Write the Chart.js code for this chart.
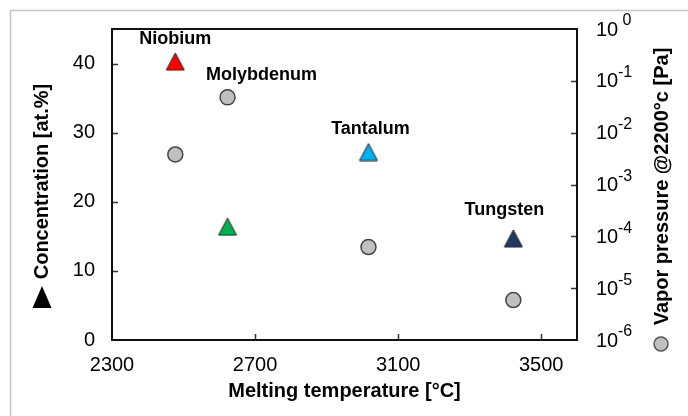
<!DOCTYPE html>
<html>
<head>
<meta charset="utf-8">
<script src="https://cdn.jsdelivr.net/npm/chart.js@4.4.1/dist/chart.umd.min.js"></script>
<style>
  html, body { margin: 0; padding: 0; background: #fff; }
  #wrap { width: 688px; height: 416px; }
</style>
</head>
<body>
<div id="wrap"><canvas id="chart" width="688" height="416"></canvas></div>
<script>
// Data
const metals        = ["Niobium", "Molybdenum", "Tantalum", "Tungsten"];
const meltingTemp   = [2477, 2623, 3017, 3422];          // °C
const concentration = [40.3, 16.4, 27.2, 14.7];          // at.%
const vaporPressure = [3.8e-3, 4.8e-2, 6.2e-5, 5.9e-6];  // Pa @ 2200 °C
const xTicks  = [2300, 2700, 3100, 3500];
const yTicks  = [0, 10, 20, 30, 40];
const y2Ticks = [1, 1e-1, 1e-2, 1e-3, 1e-4, 1e-5, 1e-6];

// Styling
const triColors    = ["#ff0000", "#00b050", "#00b0f0", "#1f3864"];
const labelOffsets = [[0, -22], [34, -152], [2, -23], [-9, -28]]; // relative to triangle
const FONT = "'Liberation Sans', Arial, sans-serif";

function triangleImage(color) {
  const c = document.createElement("canvas");
  c.width = 20; c.height = 19;
  const g = c.getContext("2d");
  g.beginPath();
  g.moveTo(10, 1);
  g.lineTo(19, 18);
  g.lineTo(1, 18);
  g.closePath();
  g.fillStyle = color;
  g.fill();
  g.strokeStyle = "#222";
  g.lineWidth = 1;
  g.stroke();
  return c;
}

const decorations = {
  id: "decorations",
  beforeDraw(chart) {
    const ctx = chart.ctx;
    ctx.save();
    ctx.fillStyle = "#fff";
    ctx.fillRect(0, 0, chart.width, chart.height);
    ctx.strokeStyle = "#c4c4c4";
    ctx.lineWidth = 1.5;
    ctx.strokeRect(10.5, 10.5, chart.width, chart.height);
    ctx.restore();
  },
  beforeDatasetsDraw(chart) {
    const { ctx, chartArea: a, scales } = chart;
    ctx.save();
    // inner tick marks
    ctx.strokeStyle = "#333";
    ctx.lineWidth = 1.5;
    ctx.beginPath();
    scales.x.ticks.forEach(t => {
      if (t.value === scales.x.min) return;
      const px = Math.round(scales.x.getPixelForValue(t.value)) + 0.5;
      ctx.moveTo(px, a.bottom); ctx.lineTo(px, a.bottom - 6);
    });
    scales.y.ticks.forEach(t => {
      if (t.value === scales.y.min) return;
      const py = Math.round(scales.y.getPixelForValue(t.value)) + 0.5;
      ctx.moveTo(a.left, py); ctx.lineTo(a.left + 6, py);
    });
    scales.y2.ticks.forEach(t => {
      if (t.value === scales.y2.min || t.value === scales.y2.max) return;
      const py = Math.round(scales.y2.getPixelForValue(t.value)) + 0.5;
      ctx.moveTo(a.right, py); ctx.lineTo(a.right - 6, py);
    });
    ctx.stroke();
    // plot frame
    ctx.strokeStyle = "#111";
    ctx.lineWidth = 2;
    ctx.strokeRect(a.left, a.top, a.right - a.left, a.bottom - a.top);
    ctx.restore();
  },
  afterDraw(chart) {
    const { ctx, chartArea: a, scales } = chart;
    ctx.save();
    ctx.fillStyle = "#000";

    // right log tick labels: 10 with superscript exponent
    scales.y2.ticks.forEach(t => {
      const py = scales.y2.getPixelForValue(t.value);
      const e = Math.round(Math.log10(t.value));
      ctx.textAlign = "left";
      ctx.textBaseline = "middle";
      ctx.font = "20px " + FONT;
      ctx.fillText("10", a.right + 19, py + 1);
      ctx.font = "16px " + FONT;
      ctx.fillText(e === 0 ? " 0" : String(e), a.right + 41, py - 8);
    });

    // metal labels
    ctx.font = "bold 18px " + FONT;
    ctx.textAlign = "center";
    ctx.textBaseline = "middle";
    const meta = chart.getDatasetMeta(0);
    metals.forEach((name, i) => {
      const p = meta.data[i];
      ctx.fillText(name, p.x + labelOffsets[i][0], p.y + labelOffsets[i][1]);
    });

    // left axis title with upright marker
    const midY = (a.top + a.bottom) / 2;
    ctx.font = "bold 20px " + FONT;
    ctx.save();
    ctx.translate(42, midY - 3);
    ctx.rotate(-Math.PI / 2);
    ctx.fillText("Concentration [at.%]", 0, 0);
    ctx.restore();
    ctx.beginPath();
    ctx.moveTo(42, 286);
    ctx.lineTo(51.5, 308);
    ctx.lineTo(32.5, 308);
    ctx.closePath();
    ctx.fill();

    // right axis title with circle marker
    ctx.save();
    ctx.translate(662, midY + 2);
    ctx.rotate(-Math.PI / 2);
    ctx.fillText("Vapor pressure @2200°c [Pa]", 0, 0);
    ctx.restore();
    ctx.beginPath();
    ctx.arc(661, 344, 7, 0, Math.PI * 2);
    ctx.fillStyle = "#c0c0c0";
    ctx.fill();
    ctx.strokeStyle = "#555";
    ctx.lineWidth = 1.5;
    ctx.stroke();
    ctx.restore();
  }
};

new Chart(document.getElementById("chart"), {
  type: "scatter",
  data: {
    datasets: [
      {
        label: "Concentration",
        yAxisID: "y",
        data: meltingTemp.map((t, i) => ({ x: t, y: concentration[i] })),
        pointStyle: triColors.map(triangleImage),
        pointRadius: 10,
      },
      {
        label: "Vapor pressure",
        yAxisID: "y2",
        data: meltingTemp.map((t, i) => ({ x: t, y: vaporPressure[i] })),
        pointStyle: "circle",
        pointRadius: 7.5,
        backgroundColor: "#c0c0c0",
        borderColor: "#444",
        borderWidth: 1.5,
      }
    ]
  },
  options: {
    responsive: false,
    animation: false,
    layout: { padding: { top: 28, left: 0, right: 0, bottom: 0 } },
    plugins: { legend: { display: false }, tooltip: { enabled: false } },
    scales: {
      x: {
        type: "linear",
        min: 2300, max: 3600,
        afterBuildTicks: s => { s.ticks = xTicks.map(v => ({ value: v })); },
        afterFit: s => { s.height = 76; },
        grid: { display: false, drawTicks: false },
        border: { display: false },
        ticks: { color: "#000", font: { size: 20, family: FONT }, padding: 13, maxRotation: 0, autoSkip: false,
                 callback: v => String(v) },
        title: { display: true, text: "Melting temperature [°C]", color: "#000",
                 font: { size: 20, weight: "bold", family: FONT }, padding: { top: 0, bottom: 13 } }
      },
      y: {
        type: "linear", position: "left",
        min: 0, max: 45,
        afterBuildTicks: s => { s.ticks = yTicks.map(v => ({ value: v })); },
        afterFit: s => { s.width = 112; },
        grid: { display: false, drawTicks: false },
        border: { display: false },
        ticks: { color: "#000", font: { size: 20, family: FONT }, padding: 17, callback: v => String(v) }
      },
      y2: {
        type: "logarithmic", position: "right",
        min: 1e-6, max: 1,
        afterBuildTicks: s => { s.ticks = y2Ticks.map(v => ({ value: v })); },
        afterFit: s => { s.width = 111; },
        grid: { display: false, drawTicks: false },
        border: { display: false },
        ticks: { display: false }
      }
    }
  },
  plugins: [decorations]
});
</script>
</body>
</html>
